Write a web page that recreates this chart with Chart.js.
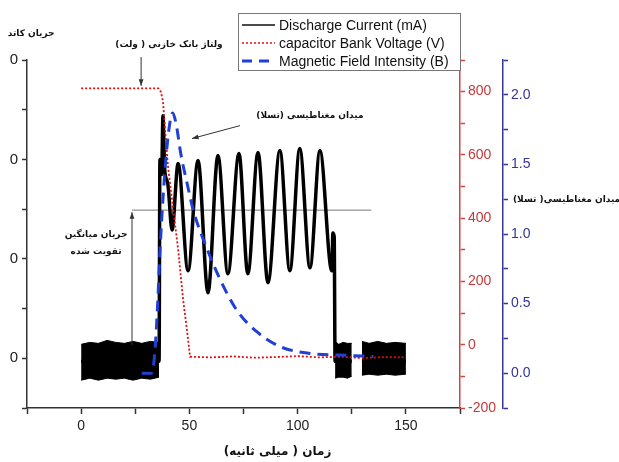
<!DOCTYPE html>
<html>
<head>
<meta charset="utf-8">
<script src="https://cdn.jsdelivr.net/npm/chart.js@4/dist/chart.umd.min.js"></script>
<style>html,body{margin:0;padding:0;background:#fff}</style>
</head>
<body>
<canvas id="myChart" width="619" height="462"></canvas>
<script>
// discharge current (left axis, arbitrary units)
const currentTime = [0, 36.0, 36.4, 37.2, 37.8, 38.6, 40.0, 42.0, 44.8, 49.4, 54.0, 58.6, 63.2, 67.8, 72.9, 77.0, 81.7, 86.3, 91.8, 96.4, 101.0, 105.7, 110.3, 115.8, 116.3, 116.9, 117.3, 125, 127, 129.7, 150]
const currentValue = [-0.03, -0.03, 2.0, 1.85, 2.44, 1.9, 1.76, 1.29, 1.96, 0.88, 1.99, 0.66, 2.04, 0.85, 2.06, 0.85, 2.07, 0.76, 2.09, 0.88, 2.11, 0.91, 2.09, 0.88, 1.26, 1.22, -0.03, -0.03, null, -0.03, -0.03]

// noise envelope of the current trace where it sits on the baseline
const noiseTime = [0, 4, 8, 12, 16, 20, 24, 28, 32, 36.0, 36.5, 117.3, 119, 121, 123, 125, 127, 129.7, 133, 137, 141, 145, 150]
const noiseHigh = [0.14, 0.16, 0.15, 0.18, 0.16, 0.15, 0.17, 0.15, 0.17, 0.16, null, 0.17, 0.14, 0.16, 0.15, 0.15, null, 0.17, 0.15, 0.17, 0.15, 0.16, 0.15]
const noiseLow = [-0.22, -0.2, -0.22, -0.2, -0.21, -0.2, -0.22, -0.2, -0.21, -0.19, null, -0.2, -0.19, -0.19, -0.2, -0.18, null, -0.17, -0.16, -0.17, -0.16, -0.17, -0.16]

// capacitor bank voltage (V)
const voltageTime = [0, 35.7, 36.8, 37.8, 39.0, 40.1, 42.5, 44.8, 47.1, 49.0, 50.3, 60, 70, 80, 90, 100, 110, 120, 130, 140, 150]
const voltageValue = [810, 810, 800, 770, 660, 565, 429, 302, 143, 40, -38, -40, -37, -41, -39, -36, -40, -38, -42, -39, -40]

// magnetic field intensity (T)
const fieldTime = [28, 32.5, 34, 35.2, 36.5, 38, 39.5, 41, 42.3, 44, 46, 49, 52, 58, 64, 72, 81, 92, 107, 120, 135]
const fieldValue = [0, 0, 0.14, 0.45, 0.9, 1.3, 1.6, 1.8, 1.87, 1.78, 1.58, 1.36, 1.16, 0.9, 0.68, 0.45, 0.3, 0.19, 0.14, 0.13, 0.12]

// amplified average current line
const averageTime = [23.5, 134]
const averageValue = [1.49, 1.49]

const legendLabels = ['Discharge Current (mA)', 'capacitor Bank Voltage (V)', 'Magnetic Field Intensity (B)']

const zip = (xs, ys) => xs.map((x, i) => ({ x: x, y: ys[i] }))

const persian = "bold 9px 'DejaVu Sans'"
const notes = [
    { text: 'جریان کاتد', x: -23.1, y: 3.26 },
    { text: 'ولتاژ بانک خازنی ( ولت)', x: 40.6, y: 3.15 },
    { text: 'میدان مغناطیسی (تسلا)', x: 105.7, y: 2.44 },
    { text: 'جریان میانگین', x: 6.9, y: 1.24 },
    { text: 'تقویت شده', x: 6.9, y: 1.07 },
]
const arrows = [
    { x1: 27.7, y1: 3.03, x2: 27.7, y2: 2.74 },
    { x1: 73.4, y1: 2.34, x2: 51.2, y2: 2.21 },
    { x1: 23.5, y1: 0.13, x2: 23.5, y2: 1.47 },
]

function drawArrow(ctx, x1, y1, x2, y2) {
    ctx.beginPath()
    ctx.moveTo(x1, y1)
    ctx.lineTo(x2, y2)
    ctx.stroke()
    const a = Math.atan2(y2 - y1, x2 - x1)
    const h = 7
    ctx.beginPath()
    ctx.moveTo(x2, y2)
    ctx.lineTo(x2 - h * Math.cos(a - 0.35), y2 - h * Math.sin(a - 0.35))
    ctx.lineTo(x2 - h * Math.cos(a + 0.35), y2 - h * Math.sin(a + 0.35))
    ctx.closePath()
    ctx.fill()
}

const notesPlugin = {
    id: 'notes',
    afterDatasetsDraw(chart) {
        const ctx = chart.ctx
        const sx = chart.scales.x
        const sy = chart.scales.y
        ctx.save()
        ctx.strokeStyle = '#333'
        ctx.fillStyle = '#333'
        ctx.lineWidth = 1
        arrows.forEach(a => drawArrow(ctx, sx.getPixelForValue(a.x1), sy.getPixelForValue(a.y1), sx.getPixelForValue(a.x2), sy.getPixelForValue(a.y2)))

        ctx.font = persian
        ctx.fillStyle = '#111'
        ctx.textAlign = 'center'
        ctx.textBaseline = 'middle'
        ctx.direction = 'rtl'
        notes.forEach(n => ctx.fillText(n.text, sx.getPixelForValue(n.x), sy.getPixelForValue(n.y)))
        // right axis title, running off the right edge as in the original
        ctx.textAlign = 'left'
        ctx.fillText('میدان مغناطیسی( تسلا)', chart.scales.y3.left + 10, chart.scales.y3.getPixelForValue(1.25))
        ctx.textAlign = 'center'
        ctx.font = "bold 12px 'DejaVu Sans'"
        ctx.fillText('زمان ( میلی ثانیه)', (chart.chartArea.left + chart.chartArea.right) / 2 + 34, 452)
        ctx.direction = 'ltr'

        // legend box
        const right = chart.chartArea.right
        const left = right - 222
        ctx.fillStyle = '#fff'
        ctx.fillRect(left, 13, 222, 57)
        ctx.strokeStyle = '#777'
        ctx.lineWidth = 1
        ctx.strokeRect(left + 0.5, 13.5, 222, 57)
        const styles = [
            { color: '#111', width: 1.5, dash: [] },
            { color: '#e01010', width: 1.5, dash: [2, 2] },
            { color: '#1f3fd6', width: 3, dash: [10, 7] },
        ]
        ctx.font = "14px 'Liberation Sans'"
        ctx.textAlign = 'left'
        legendLabels.forEach((label, i) => {
            const y = 25 + i * 18
            const s = styles[i]
            ctx.strokeStyle = s.color
            ctx.lineWidth = s.width
            ctx.setLineDash(s.dash)
            ctx.beginPath()
            ctx.moveTo(left + 4, y)
            ctx.lineTo(left + 37, y)
            ctx.stroke()
            ctx.setLineDash([])
            ctx.fillStyle = '#111'
            ctx.fillText(label, left + 41, y + 1)
        })
        ctx.restore()
    },
}

const ctx = document.getElementById('myChart').getContext('2d')

new Chart(ctx, {
    type: 'line',
    data: {
        datasets: [
            {
                label: legendLabels[2],
                data: zip(fieldTime, fieldValue),
                yAxisID: 'y3',
                borderColor: '#1f3fd6',
                borderWidth: 3,
                borderDash: [11, 7],
                cubicInterpolationMode: 'monotone',
                pointRadius: 0,
                order: 0,
            },
            {
                label: legendLabels[1],
                data: zip(voltageTime, voltageValue),
                yAxisID: 'y2',
                borderColor: '#e01010',
                borderWidth: 1.8,
                borderDash: [2, 2],
                pointRadius: 0,
                order: 1,
            },
            {
                label: legendLabels[0],
                data: zip(currentTime, currentValue),
                yAxisID: 'y',
                borderColor: '#000',
                borderWidth: 3.5,
                cubicInterpolationMode: 'monotone',
                pointRadius: 0,
                spanGaps: false,
                order: 2,
            },
            {
                label: 'noiseHigh',
                data: zip(noiseTime, noiseHigh),
                yAxisID: 'y',
                borderColor: '#000',
                borderWidth: 1,
                pointRadius: 0,
                spanGaps: false,
                fill: false,
                order: 3,
            },
            {
                label: 'noiseLow',
                data: zip(noiseTime, noiseLow),
                yAxisID: 'y',
                borderColor: '#000',
                backgroundColor: '#000',
                borderWidth: 1,
                pointRadius: 0,
                spanGaps: false,
                fill: '-1',
                order: 3,
            },
            {
                label: 'average',
                data: zip(averageTime, averageValue),
                yAxisID: 'y',
                borderColor: '#777',
                borderWidth: 1,
                pointRadius: 0,
                order: 4,
            },
        ],
    },
    options: {
        responsive: false,
        animation: false,
        layout: { padding: { top: 60, left: 0, right: 0, bottom: 0 } },
        plugins: { legend: { display: false }, tooltip: { enabled: false } },
        scales: {
            x: {
                type: 'linear',
                min: -25,
                max: 175,
                ticks: {
                    stepSize: 25,
                    autoSkip: false,
                    maxRotation: 0,
                    callback: v => (v % 50 === 0 && v >= 0 && v <= 150 ? v : ''),
                    font: { family: 'Liberation Sans', size: 14 },
                    color: '#222',
                    padding: 4,
                },
                grid: { drawOnChartArea: false, tickLength: 6, tickColor: '#333', tickWidth: 1.5 },
                border: { color: '#333', width: 1.5 },
                afterFit: s => { s.height = 54 },
            },
            y: {
                position: 'left',
                min: -0.5,
                max: 3,
                ticks: {
                    stepSize: 0.5,
                    autoSkip: false,
                    callback: v => (Number.isInteger(v) ? '0' : ''),
                    font: { family: 'Liberation Sans', size: 15 },
                    color: '#222',
                    padding: 4,
                },
                grid: { drawOnChartArea: false, tickLength: 5, tickColor: '#333', tickWidth: 1.5 },
                border: { color: '#333', width: 1.5 },
                afterFit: s => { s.width = 27 },
            },
            y2: {
                position: 'right',
                min: -200,
                max: 900,
                ticks: {
                    stepSize: 100,
                    autoSkip: false,
                    callback: v => (v % 200 === 0 ? v : ''),
                    font: { family: 'Liberation Sans', size: 14 },
                    color: '#c8383a',
                    padding: 3,
                },
                grid: { drawOnChartArea: false, tickLength: 5, tickColor: '#d04545', tickWidth: 1.5 },
                border: { color: '#d04545', width: 1.5 },
                afterFit: s => { s.width = 43 },
            },
            y3: {
                position: 'right',
                min: -0.25,
                max: 2.25,
                ticks: {
                    stepSize: 0.25,
                    autoSkip: false,
                    callback: v => (Math.abs(v * 2 - Math.round(v * 2)) < 1e-6 ? v.toFixed(1) : ''),
                    font: { family: 'Liberation Sans', size: 14 },
                    color: '#34349c',
                    padding: 3,
                },
                grid: { drawOnChartArea: false, tickLength: 5, tickColor: '#34349c', tickWidth: 1.5 },
                border: { color: '#34349c', width: 1.5 },
                afterFit: s => { s.width = 116 },
            },
        },
    },
    plugins: [notesPlugin],
})
</script>
</body>
</html>
